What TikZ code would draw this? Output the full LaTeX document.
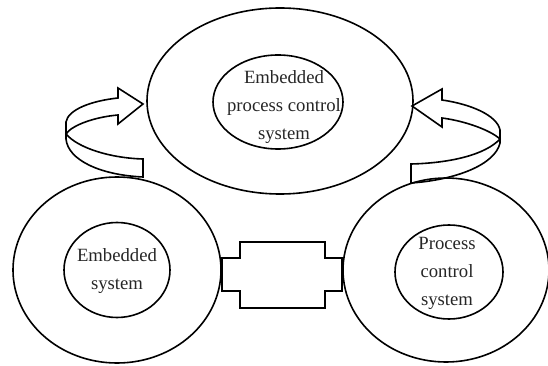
\documentclass[tikz,border=0pt]{standalone}
\usepackage{fontspec}
\setmainfont{Liberation Serif}
\usetikzlibrary{shapes.geometric}
\begin{document}
\begin{tikzpicture}[x=1pt,y=-1pt,
  line width=1.6pt,
  ring/.style={draw,ellipse,inner sep=0pt},
  label/.style={align=center,inner sep=0pt,font=\fontsize{18.7}{28}\selectfont,text=black!85},
  ribbon/.style={draw,fill=white,line join=miter}]
\useasboundingbox (0,0) rectangle (548,366);

% curled ribbon arrow on the left
\path[ribbon] (143,104) coordinate (lt) -- (118,88) -- (118,98)
  .. controls (90,101) and (68,110) .. (66,122)
  -- (66,139)
  .. controls (68,160) and (100,175) .. (143,177)
  -- (143,159)
  .. controls (110,158) and (78,148) .. (66,134)
  .. controls (72,125) and (95,117) .. (118,115)
  -- (118,124) -- cycle;

% curled ribbon arrow on the right
\path[ribbon] (412,106) coordinate (rt) -- (442,89) -- (442,100)
  .. controls (470,104) and (497,115) .. (500,130)
  -- (500,143)
  .. controls (495,165) and (455,180) .. (411,183)
  -- (411,164)
  .. controls (450,163) and (485,155) .. (500,139)
  .. controls (490,130) and (465,121) .. (442,118)
  -- (442,127) -- cycle;

% outer rings
\node[ring,minimum width=266pt,minimum height=186pt] (top) at (280,101) {};
\node[ring,minimum width=208pt,minimum height=186pt] (left) at (117,270) {};
\node[ring,minimum width=206pt,minimum height=184pt] (right) at (446,270) {};

% inner rings
\node[ring,minimum width=130pt,minimum height=94pt] (topin) at (278,102) {};
\node[ring,minimum width=106pt,minimum height=95pt] (leftin) at (117,270) {};
\node[ring,minimum width=108pt,minimum height=94pt] (rightin) at (449,272) {};

% labels
\node[label] (toptext) at (284,107) {Embedded\\process control\\system};
\node[label] (lefttext) at (117,271) {Embedded\\system};
\node[label] (righttext) at (447,273) {Process\\control\\system};

% link between the two lower rings
\draw[line join=miter] (222,258) coordinate (la) -- (240,258) -- (240,242) -- (325,242)
  -- (325,258) -- (342,258) coordinate (ra) -- (342,291) -- (325,291) -- (325,308)
  -- (240,308) -- (240,291) -- (222,291) -- cycle;
\end{tikzpicture}
\end{document}
